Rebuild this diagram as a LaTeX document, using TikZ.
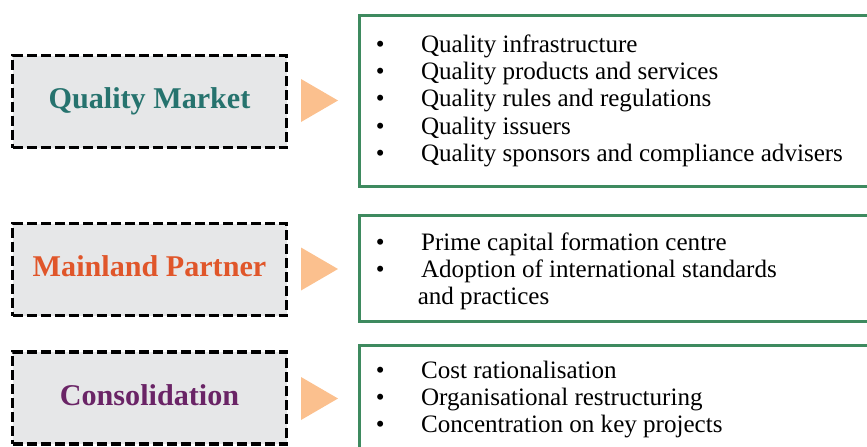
\documentclass[tikz,border=0pt]{standalone}
\usepackage{fontspec}
\setmainfont{Liberation Serif}
\usepackage{tikz}
\usetikzlibrary{shapes.geometric}

\definecolor{tealtxt}{RGB}{38,115,110}
\definecolor{orangetxt}{RGB}{224,86,42}
\definecolor{purpletxt}{RGB}{106,36,102}
\definecolor{boxgray}{RGB}{230,231,232}
\definecolor{framegreen}{RGB}{62,138,95}
\definecolor{peach}{RGB}{251,192,142}

\newcommand{\blt}{\makebox[34pt][l]{\textbullet}}

\tikzset{
  tagbox/.style={draw=black, fill=boxgray, line width=2.4pt, dash pattern=on 7.5pt off 3pt,
    minimum width=205.5pt, minimum height=69pt, inner sep=0pt, outer sep=0pt,
    text height=15pt, text depth=4pt, font=\fontsize{22.6}{26}\selectfont\bfseries},
  listbox/.style={draw=framegreen, line width=2.25pt, inner sep=0pt, outer sep=0pt,
    minimum width=390pt, anchor=north west},
  listtext/.style={inner sep=0pt, anchor=base west, font=\fontsize{18.8}{20.6}\selectfont},
  pointer/.style={isosceles triangle, isosceles triangle stretches, fill=peach, draw=none,
    inner sep=0pt, outer sep=0pt, minimum width=32.25pt, minimum height=27.75pt, anchor=apex}
}

\begin{document}
\begin{tikzpicture}[x=0.75pt,y=0.75pt,yscale=-1,xscale=1]
    \useasboundingbox (0,0) rectangle (867,446);

    %Shape: dashed boxes
    \node[tagbox, text=tealtxt] (qm) at (149.5,101.5) {Quality Market};
    \node[tagbox, text=orangetxt] (mp) at (149.5,269.5) {Mainland Partner};
    \node[tagbox, text=purpletxt] (co) at (149.5,398) {Consolidation};

    %Shape: pointers
    \node[pointer] (qmarrow) at (338,100.5) {};
    \node[pointer] (mparrow) at (338,269) {};
    \node[pointer] (coarrow) at (338,398.5) {};

    %Shape: green frames
    \node[listbox, minimum height=128.25pt] (qmlist) at (359.5,15.5) {};
    \node[listbox, minimum height=79.5pt] (mplist) at (359.5,215.5) {};
    \node[listbox, minimum height=90pt] (colist) at (359.5,345.5) {};

    % Text Node
    \node[listtext] (qmitems) at (375.5,52) {\begin{tabular}[t]{@{}l@{}}
      \blt Quality infrastructure\\
      \blt Quality products and services\\
      \blt Quality rules and regulations\\
      \blt Quality issuers\\
      \blt Quality sponsors and compliance advisers
    \end{tabular}};
    % Text Node
    \node[listtext] (mpitems) at (375.5,250) {\begin{tabular}[t]{@{}l@{}}
      \blt Prime capital formation centre\\
      \blt Adoption of international standards\\
      \hspace{31.5pt}and practices
    \end{tabular}};
    % Text Node
    \node[listtext] (coitems) at (375.5,378) {\begin{tabular}[t]{@{}l@{}}
      \blt Cost rationalisation\\
      \blt Organisational restructuring\\
      \blt Concentration on key projects
    \end{tabular}};
\end{tikzpicture}
\end{document}
